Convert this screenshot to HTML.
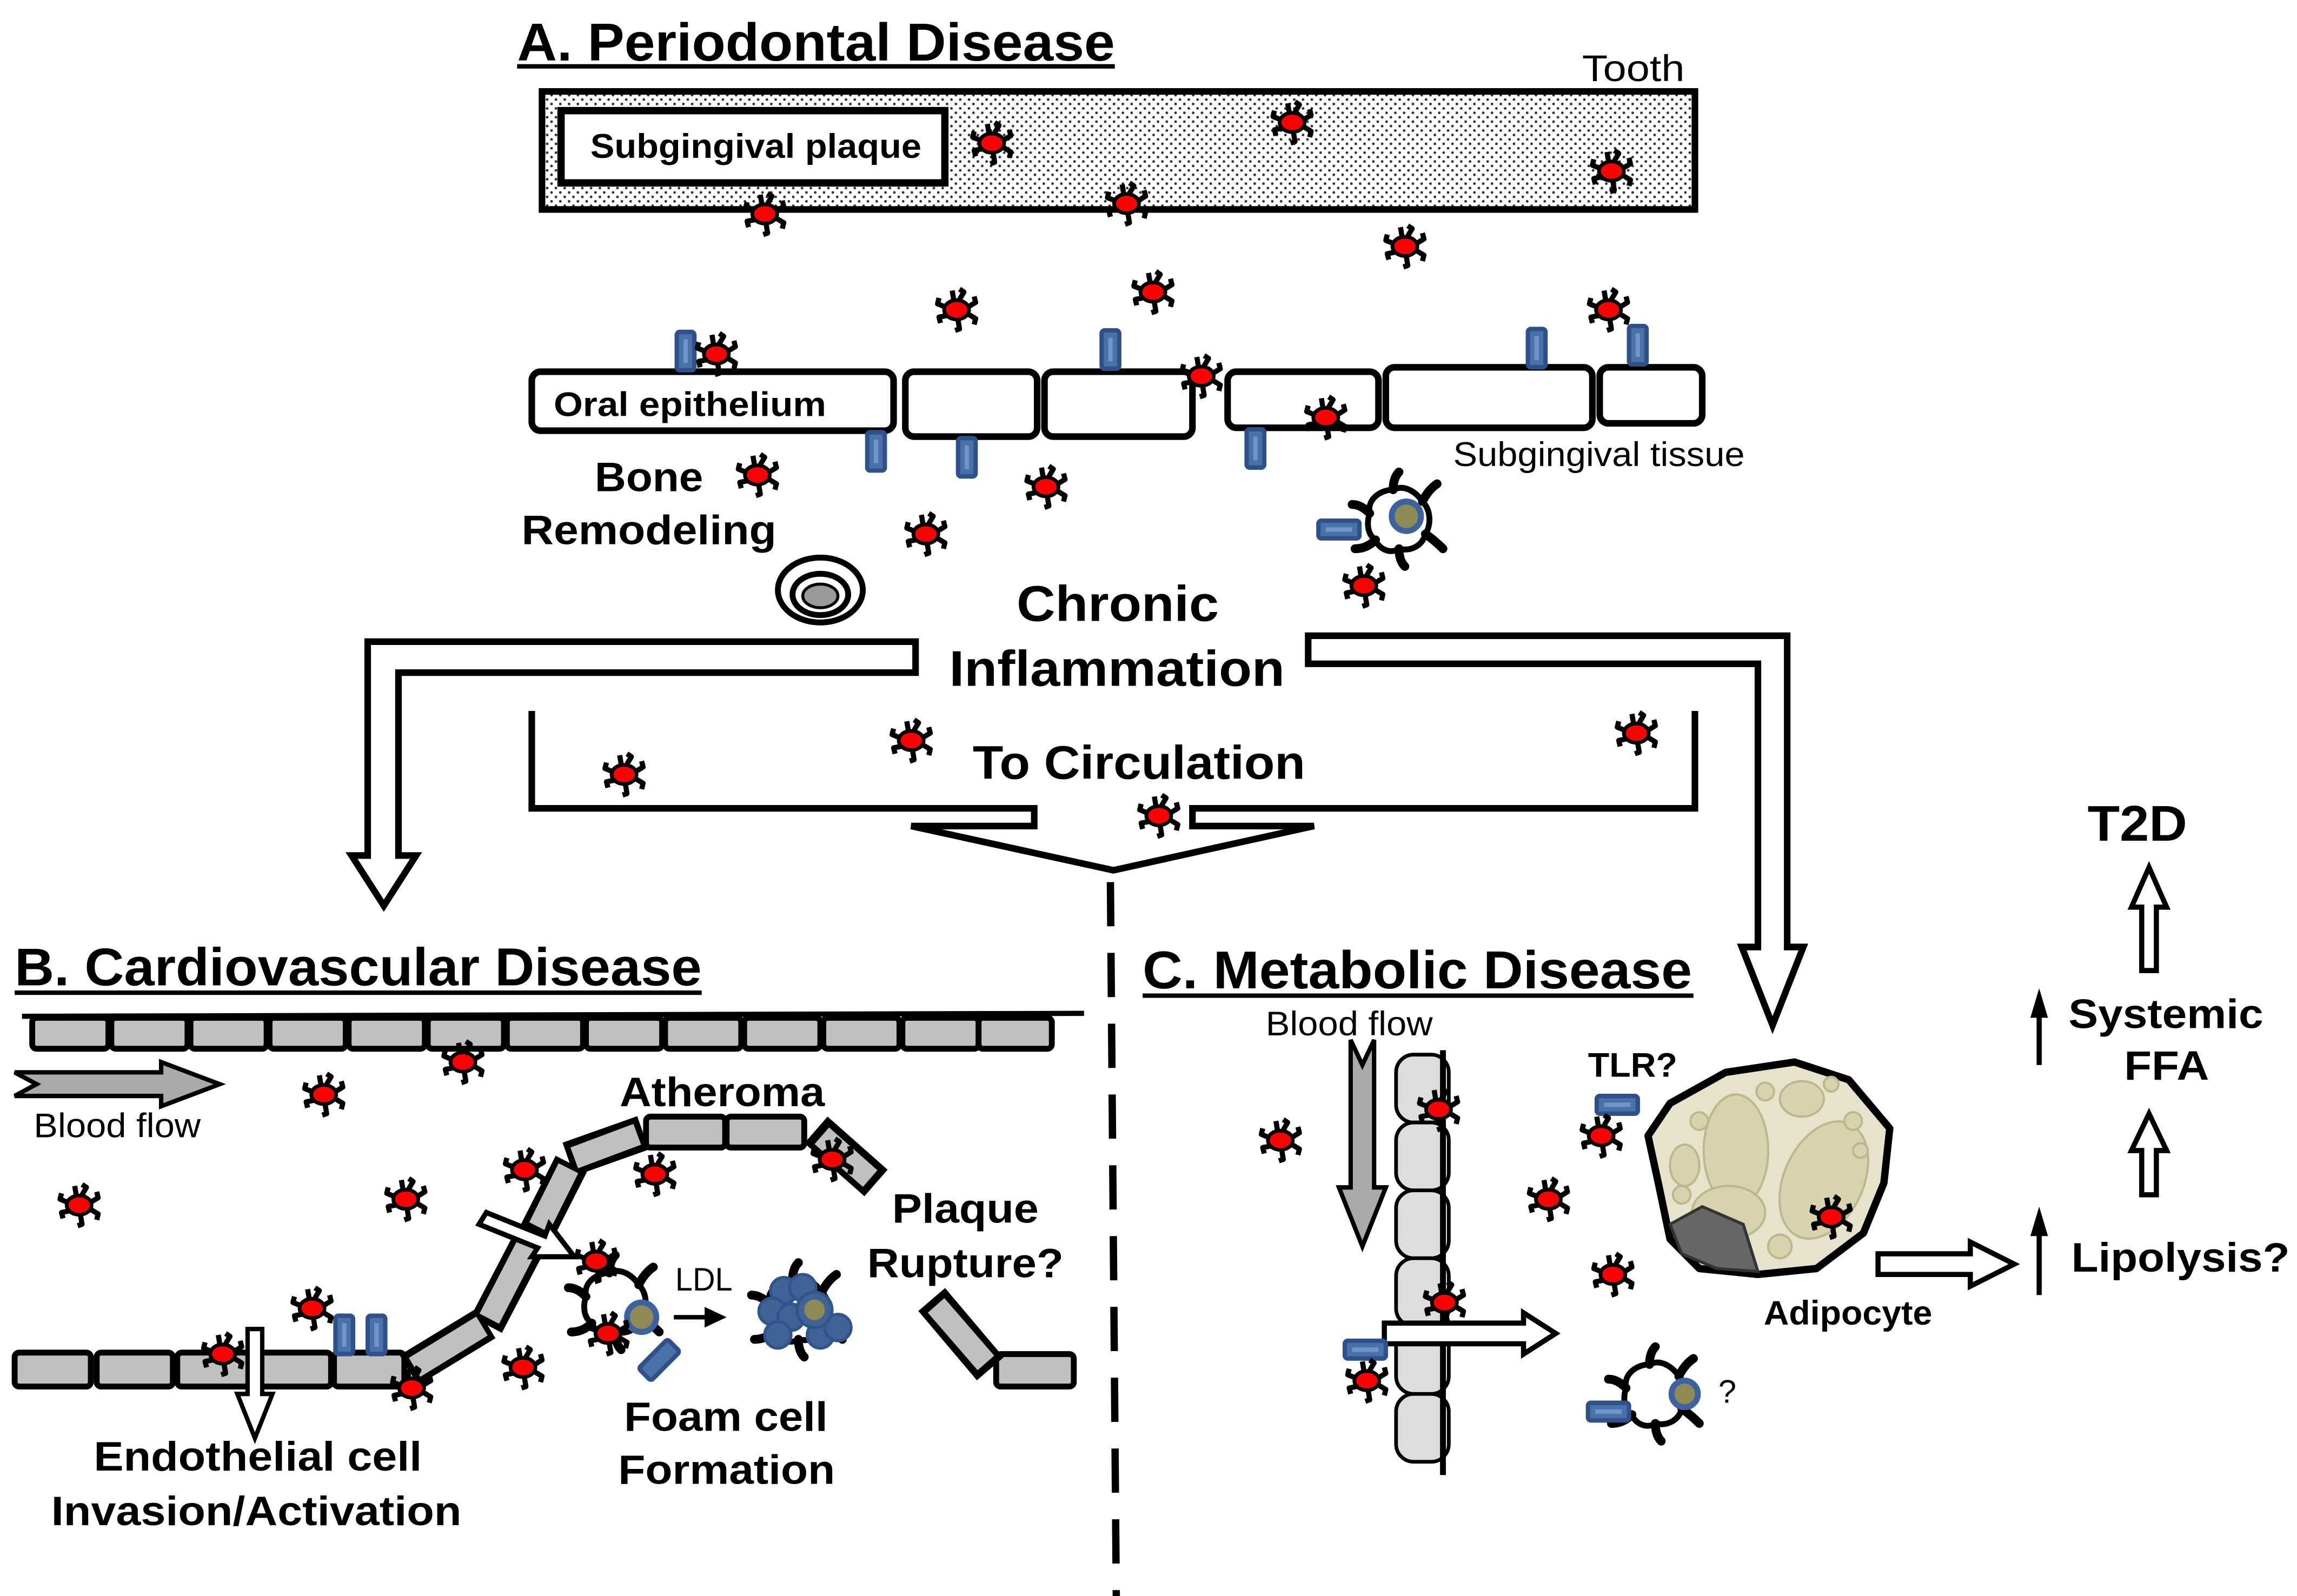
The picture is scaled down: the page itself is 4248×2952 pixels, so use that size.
<!DOCTYPE html>
<html><head><meta charset="utf-8"><style>
html,body{margin:0;padding:0;background:#fff;}
svg{display:block;}
text{font-family:"Liberation Sans",Arial,sans-serif;}
.b{font-weight:bold;}
</style></head><body>
<svg width="4248" height="2952" viewBox="0 0 1568 1082" preserveAspectRatio="none" xmlns="http://www.w3.org/2000/svg">
<defs>
<pattern id="dots" width="6" height="6" patternUnits="userSpaceOnUse"><rect width="6" height="6" fill="#fff"/><circle cx="1.5" cy="1.5" r="0.9" fill="#333"/><circle cx="4.5" cy="4.5" r="0.9" fill="#333"/></pattern>
<g id="bac">
<path d="M-2,-7 L-3,-13 M2,-7 L5,-12 L2,-14 M8,-2 L13,-5 L12,-9 M8,3 L13,6 L12,10 M1,7 L2,13 L-1,14 M-7,4 L-12,5 L-11,9 M-8,-2 L-13,-4 L-12,-8" stroke="#000" stroke-width="3.5" fill="none" stroke-linejoin="round"/>
<ellipse cx="0" cy="0" rx="8.5" ry="6.5" fill="#ff0000" stroke="#000" stroke-width="2.5"/>
</g>
<g id="mac">
<path d="M-20,-4 C-22,-14 -12,-20 -4,-20 C4,-24 12,-18 16,-12 C22,-6 22,4 18,10 C16,18 8,22 0,20 C-6,24 -14,20 -16,14 C-22,10 -22,2 -20,-4 Z" fill="#fff" stroke="#000" stroke-width="4"/>
<path d="M-20,-4 Q-26,-10 -32,-10 M-4,-20 Q-4,-28 0,-32 M16,-12 Q20,-20 26,-24 M18,10 Q24,14 30,20 M0,20 Q0,28 4,32 M-16,14 Q-22,20 -30,20" stroke="#000" stroke-width="6" fill="none" stroke-linecap="round"/>
</g>
<g id="rv"><rect x="-6" y="-13" width="12" height="26" rx="2" fill="#4a72aa" stroke="#2f5088" stroke-width="3"/><rect x="-1.5" y="-8" width="3" height="16" fill="#6f95cc"/></g>
<g id="rh"><rect x="-14" y="-6" width="28" height="12" rx="2" fill="#4a72aa" stroke="#2f5088" stroke-width="3"/><rect x="-9" y="-1.5" width="18" height="3" fill="#6f95cc"/></g>
</defs>

<!-- A -->
<text x="353" y="41" class="b" font-size="36" textLength="408" lengthAdjust="spacingAndGlyphs">A. Periodontal Disease</text>
<line x1="353" y1="45" x2="761" y2="45" stroke="#000" stroke-width="3"/>
<text x="1080" y="55" font-size="25" textLength="70" lengthAdjust="spacingAndGlyphs">Tooth</text>
<rect x="370" y="62" width="787" height="80" fill="url(#dots)" stroke="#000" stroke-width="4.5"/>
<rect x="383" y="75" width="262" height="49" fill="#fff" stroke="#000" stroke-width="5"/>
<text x="403" y="107" class="b" font-size="23" textLength="226" lengthAdjust="spacingAndGlyphs">Subgingival plaque</text>

<g fill="#fff" stroke="#000" stroke-width="4.5">
<rect x="363" y="252" width="247" height="40" rx="6"/>
<rect x="618" y="252" width="90" height="44" rx="6"/>
<rect x="713" y="252" width="101" height="44" rx="6"/>
<rect x="838" y="252" width="103" height="38" rx="6"/>
<rect x="946" y="249" width="141" height="41" rx="6"/>
<rect x="1092" y="249" width="70" height="38" rx="6"/>
</g>
<text x="378" y="282" class="b" font-size="23" textLength="186" lengthAdjust="spacingAndGlyphs">Oral  epithelium</text>
<text x="992" y="316" font-size="23" textLength="199" lengthAdjust="spacingAndGlyphs">Subgingival tissue</text>
<text x="406" y="333" class="b" font-size="28" textLength="74" lengthAdjust="spacingAndGlyphs">Bone</text>
<text x="356" y="369" class="b" font-size="28" textLength="174" lengthAdjust="spacingAndGlyphs">Remodeling</text>
<ellipse cx="560" cy="400" rx="29" ry="22" fill="#fff" stroke="#000" stroke-width="4"/>
<ellipse cx="560" cy="403" rx="19" ry="14" fill="#fff" stroke="#000" stroke-width="4"/>
<ellipse cx="560" cy="404" rx="12" ry="8" fill="#999" stroke="#000" stroke-width="2"/>

<use href="#rv" x="468" y="238"/><use href="#rv" x="758" y="237"/><use href="#rv" x="1049" y="236"/><use href="#rv" x="1118" y="234"/>
<use href="#rv" x="598" y="306"/><use href="#rv" x="660" y="310"/><use href="#rv" x="857" y="304"/>

<use href="#mac" x="955" y="352"/>
<circle cx="960" cy="350" r="10" fill="#8f8a55" stroke="#3c62a0" stroke-width="4"/>
<use href="#rh" x="914" y="359"/>

<text x="694" y="421" class="b" font-size="34" textLength="138" lengthAdjust="spacingAndGlyphs">Chronic</text>
<text x="648" y="465" class="b" font-size="34" textLength="229" lengthAdjust="spacingAndGlyphs">Inflammation</text>

<path d="M625,435 L251,435 L251,580 L240,580 L262,614 L284,580 L272,580 L272,456 L625,456 Z" fill="#fff" stroke="#000" stroke-width="4.5"/>
<path d="M893,431 L1220,431 L1220,642 L1231,642 L1210,695 L1189,642 L1200,642 L1200,450 L893,450 Z" fill="#fff" stroke="#000" stroke-width="4.5"/>

<path d="M363,482 L363,548 L706,548 L706,560 L622,560 L760,590 L897,560 L814,560 L814,548 L1157,548 L1157,482" fill="none" stroke="#000" stroke-width="4.5"/>
<text x="664" y="528" class="b" font-size="32" textLength="227" lengthAdjust="spacingAndGlyphs">To Circulation</text>

<line x1="758" y1="598" x2="762" y2="1082" stroke="#000" stroke-width="5" stroke-dasharray="30,18"/>

<!-- B -->
<text x="10" y="668" class="b" font-size="36" textLength="469" lengthAdjust="spacingAndGlyphs">B. Cardiovascular Disease</text>
<line x1="10" y1="673" x2="479" y2="673" stroke="#000" stroke-width="3"/>
<line x1="15" y1="689" x2="740" y2="687" stroke="#000" stroke-width="3.5"/>
<g fill="#c0c0c0" stroke="#000" stroke-width="4">
<rect x="22" y="690" width="52" height="21" rx="3"/><rect x="76" y="690" width="52" height="21" rx="3"/><rect x="130" y="690" width="52" height="21" rx="3"/><rect x="184" y="690" width="52" height="21" rx="3"/><rect x="238" y="690" width="52" height="21" rx="3"/><rect x="292" y="690" width="52" height="21" rx="3"/><rect x="346" y="690" width="52" height="21" rx="3"/><rect x="400" y="690" width="52" height="21" rx="3"/><rect x="454" y="690" width="52" height="21" rx="3"/><rect x="508" y="690" width="52" height="21" rx="3"/><rect x="562" y="690" width="52" height="21" rx="3"/><rect x="616" y="690" width="52" height="21" rx="3"/><rect x="668" y="690" width="50" height="21" rx="3"/>
<rect x="10" y="917" width="52" height="23" rx="3"/><rect x="66" y="917" width="52" height="23" rx="3"/><rect x="121" y="917" width="52" height="23" rx="3"/><rect x="176" y="917" width="50" height="23" rx="3"/><rect x="228" y="917" width="48" height="23" rx="3"/>
<rect x="441" y="757" width="54" height="21" rx="3"/><rect x="496" y="757" width="53" height="21" rx="3"/>
<rect x="680" y="918" width="53" height="22" rx="3"/>
</g>
<g stroke-linecap="butt">
<g stroke="#000" stroke-width="24"><line x1="279" y1="929" x2="332" y2="897"/><line x1="332" y1="898" x2="362" y2="841"/><line x1="366" y1="836" x2="390" y2="789"/><line x1="388" y1="786" x2="439" y2="768"/><line x1="557" y1="766" x2="598" y2="802"/><line x1="636" y1="881" x2="676" y2="928"/></g>
<g stroke="#c0c0c0" stroke-width="15"><line x1="283" y1="927" x2="329" y2="899"/><line x1="334" y1="894" x2="360" y2="844"/><line x1="368" y1="832" x2="388" y2="792"/><line x1="392" y1="785" x2="435" y2="769"/><line x1="561" y1="770" x2="594" y2="799"/><line x1="639" y1="885" x2="673" y2="924"/></g>
</g>
<path d="M10,727 L110,727 L110,720 L150,735 L110,750 L110,743 L10,743 L25,735 Z" fill="#aaa" stroke="#000" stroke-width="3"/>
<text x="23" y="771" font-size="23" textLength="114" lengthAdjust="spacingAndGlyphs">Blood flow</text>
<text x="423" y="750" class="b" font-size="28" textLength="140" lengthAdjust="spacingAndGlyphs">Atheroma</text>
<text x="609" y="829" class="b" font-size="28" textLength="100" lengthAdjust="spacingAndGlyphs">Plaque</text>
<text x="592" y="866" class="b" font-size="28" textLength="134" lengthAdjust="spacingAndGlyphs">Rupture?</text>
<path d="M332,822 L372,838 L375,830 L392,852 L363,852 L367,846 L327,830 Z" fill="#fff" stroke="#000" stroke-width="3.5"/>
<path d="M169,901 L169,945 L162,945 L174,975 L186,945 L179,945 L179,901 Z" fill="#fff" stroke="#000" stroke-width="3"/>
<use href="#rv" x="235" y="905"/><use href="#rv" x="257" y="905"/>
<text x="64" y="997" class="b" font-size="28" textLength="224" lengthAdjust="spacingAndGlyphs">Endothelial cell</text>
<text x="35" y="1034" class="b" font-size="28" textLength="280" lengthAdjust="spacingAndGlyphs">Invasion/Activation</text>
<use href="#mac" x="420" y="883"/>
<circle cx="438" cy="893" r="10" fill="#8f8a55" stroke="#3c62a0" stroke-width="4"/>
<g transform="translate(450,922) rotate(45)"><rect x="-6" y="-14" width="12" height="28" rx="2" fill="#4a72aa" stroke="#2f5088" stroke-width="3"/></g>
<text x="461" y="875" font-size="22" textLength="39" lengthAdjust="spacingAndGlyphs">LDL</text>
<line x1="460" y1="893" x2="482" y2="893" stroke="#000" stroke-width="3"/><path d="M481,886 L496,893 L481,900 Z" fill="#000"/>
<use href="#mac" x="545" y="888"/>
<g fill="#3f6396" stroke="#30558a" stroke-width="2">
<circle cx="535" cy="875" r="9"/><circle cx="548" cy="873" r="9"/><circle cx="527" cy="889" r="9"/><circle cx="540" cy="893" r="9"/><circle cx="531" cy="905" r="9"/><circle cx="560" cy="905" r="9"/><circle cx="572" cy="900" r="9"/>
<circle cx="556" cy="888" r="12"/>
</g>
<circle cx="556" cy="888" r="7" fill="#8f8a55"/>
<text x="426" y="970" class="b" font-size="28" textLength="139" lengthAdjust="spacingAndGlyphs">Foam cell</text>
<text x="422" y="1006" class="b" font-size="28" textLength="148" lengthAdjust="spacingAndGlyphs">Formation</text>

<!-- C -->
<text x="780" y="670" class="b" font-size="36" textLength="375" lengthAdjust="spacingAndGlyphs">C. Metabolic Disease</text>
<line x1="780" y1="675" x2="1156" y2="675" stroke="#000" stroke-width="3"/>
<text x="864" y="702" font-size="23" textLength="114" lengthAdjust="spacingAndGlyphs">Blood flow</text>
<path d="M922,705 L930,722 L938,705 L938,805 L946,805 L930,845 L914,805 L922,805 Z" fill="#aaa" stroke="#000" stroke-width="3"/>
<g fill="#ddd" stroke="#000" stroke-width="2.5">
<rect x="953" y="715" width="36" height="46" rx="12"/><rect x="953" y="761" width="36" height="46" rx="12"/><rect x="953" y="807" width="36" height="46" rx="12"/><rect x="953" y="853" width="36" height="46" rx="12"/><rect x="953" y="899" width="36" height="46" rx="12"/><rect x="953" y="945" width="36" height="46" rx="12"/>
</g>
<line x1="985" y1="712" x2="985" y2="1000" stroke="#000" stroke-width="4"/>
<path d="M945,897 L1040,897 L1040,890 L1062,904 L1040,918 L1040,911 L945,911 Z" fill="#fff" stroke="#000" stroke-width="3.5"/>
<use href="#rh" x="932" y="915"/>
<path d="M1140,748 L1178,727 L1225,720 L1262,732 L1290,765 L1286,802 L1272,836 L1240,860 L1200,864 L1160,860 L1140,840 L1132,802 L1125,770 Z" fill="#e6e2cc" stroke="#000" stroke-width="5" stroke-linejoin="round"/>
<g fill="#d8d3ad" stroke="#bdb78e" stroke-width="1.5">
<ellipse cx="1185" cy="780" rx="22" ry="38"/><ellipse cx="1245" cy="800" rx="27" ry="42" transform="rotate(25 1245 800)"/><ellipse cx="1180" cy="822" rx="25" ry="18"/><ellipse cx="1230" cy="745" rx="15" ry="12"/><ellipse cx="1150" cy="790" rx="10" ry="14"/><circle cx="1160" cy="760" r="6"/><circle cx="1265" cy="760" r="6"/><circle cx="1250" cy="735" r="5"/><circle cx="1215" cy="845" r="8"/><circle cx="1148" cy="810" r="6"/><circle cx="1270" cy="780" r="5"/><circle cx="1205" cy="740" r="6"/>
</g>
<path d="M1140,830 L1162,818 L1190,830 L1200,862 L1172,860 L1148,850 Z" fill="#666" stroke="#333" stroke-width="2"/>
<use href="#rh" x="1104" y="749"/>
<text x="1084" y="730" class="b" font-size="23" textLength="61" lengthAdjust="spacingAndGlyphs">TLR?</text>
<text x="1204" y="898" class="b" font-size="23" textLength="115" lengthAdjust="spacingAndGlyphs">Adipocyte</text>
<use href="#mac" x="1130" y="945"/>
<circle cx="1150" cy="945" r="9" fill="#8f8a55" stroke="#3c62a0" stroke-width="4"/>
<use href="#rh" x="1098" y="957"/>
<text x="1173" y="951" font-size="22">?</text>
<path d="M1282,850 L1345,850 L1345,842 L1375,857 L1345,872 L1345,864 L1282,864 Z" fill="#fff" stroke="#000" stroke-width="3.5"/>
<line x1="1392" y1="878" x2="1392" y2="835" stroke="#000" stroke-width="3.5"/><path d="M1386,838 L1392,818 L1398,838 Z" fill="#000"/>
<text x="1414" y="862" class="b" font-size="28" textLength="149" lengthAdjust="spacingAndGlyphs">Lipolysis?</text>
<line x1="1392" y1="722" x2="1392" y2="688" stroke="#000" stroke-width="3.5"/><path d="M1386,690 L1392,670 L1398,690 Z" fill="#000"/>
<text x="1412" y="697" class="b" font-size="28" textLength="133" lengthAdjust="spacingAndGlyphs">Systemic</text>
<text x="1450" y="732" class="b" font-size="28" textLength="58" lengthAdjust="spacingAndGlyphs">FFA</text>
<path d="M1462,810 L1462,780 L1455,780 L1467,755 L1479,780 L1472,780 L1472,810 Z" fill="#fff" stroke="#000" stroke-width="3.5"/>
<path d="M1462,658 L1462,615 L1455,615 L1467,588 L1479,615 L1472,615 L1472,658 Z" fill="#fff" stroke="#000" stroke-width="3.5"/>
<text x="1425" y="570" class="b" font-size="34" textLength="68" lengthAdjust="spacingAndGlyphs">T2D</text>

<g>
<use href="#bac" x="677" y="97"/><use href="#bac" x="882" y="83"/><use href="#bac" x="1100" y="116"/><use href="#bac" x="522" y="145"/><use href="#bac" x="769" y="138"/><use href="#bac" x="959" y="167"/><use href="#bac" x="653" y="210"/><use href="#bac" x="787" y="198"/><use href="#bac" x="1098" y="210"/><use href="#bac" x="489" y="240"/><use href="#bac" x="820" y="255"/><use href="#bac" x="905" y="283"/><use href="#bac" x="517" y="322"/><use href="#bac" x="714" y="330"/><use href="#bac" x="632" y="362"/><use href="#bac" x="931" y="397"/><use href="#bac" x="426" y="525"/><use href="#bac" x="622" y="502"/><use href="#bac" x="1117" y="497"/><use href="#bac" x="791" y="553"/>
<use href="#bac" x="316" y="720"/><use href="#bac" x="221" y="742"/><use href="#bac" x="54" y="817"/><use href="#bac" x="277" y="813"/><use href="#bac" x="358" y="793"/><use href="#bac" x="447" y="796"/><use href="#bac" x="568" y="786"/><use href="#bac" x="407" y="855"/><use href="#bac" x="213" y="887"/><use href="#bac" x="152" y="918"/><use href="#bac" x="281" y="941"/><use href="#bac" x="357" y="927"/><use href="#bac" x="415" y="904"/>
<use href="#bac" x="982" y="752"/><use href="#bac" x="874" y="773"/><use href="#bac" x="1093" y="770"/><use href="#bac" x="1057" y="813"/><use href="#bac" x="1101" y="864"/><use href="#bac" x="986" y="883"/><use href="#bac" x="933" y="936"/><use href="#bac" x="1250" y="825"/>
</g>
</svg>
</body></html>
